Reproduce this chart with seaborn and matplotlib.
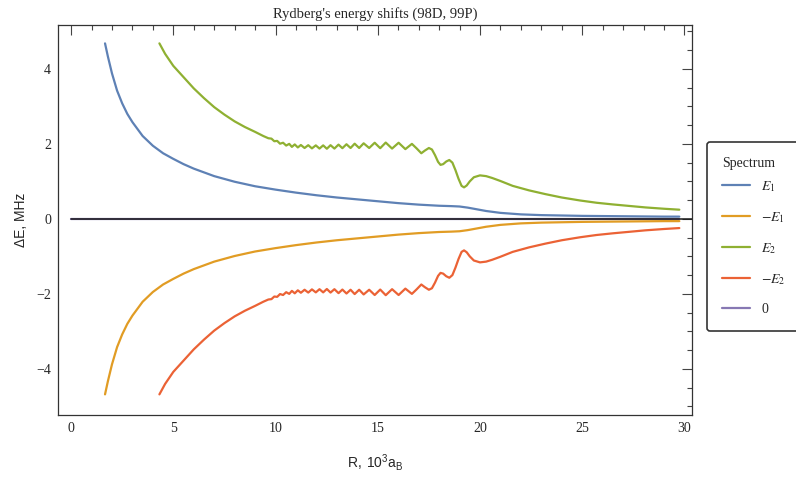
import numpy as np
import pandas as pd
import matplotlib
matplotlib.use("Agg")
import matplotlib.pyplot as plt
import seaborn as sns
from matplotlib.ticker import MultipleLocator
from matplotlib.lines import Line2D

# ---------------- data ----------------
E1_R = [1.66, 1.8, 2.0, 2.25, 2.5, 2.75, 3.0, 3.5, 4.0, 4.5, 5.0, 5.5, 6.0, 7.0, 8.0,
        9.0, 10.0, 11.0, 12.0, 13.0, 14.0, 15.0, 16.0, 17.0, 18.0, 18.6, 19.0, 19.4,
        19.8, 20.3, 21.0, 22.0, 23.0, 24.0, 25.0, 26.0, 27.0, 28.0, 29.0, 29.75]
E1 = [4.68, 4.33, 3.88, 3.42, 3.08, 2.80, 2.58, 2.21, 1.95, 1.75, 1.60, 1.46, 1.34,
      1.14, 0.99, 0.87, 0.78, 0.70, 0.63, 0.57, 0.52, 0.47, 0.42, 0.38, 0.35, 0.34,
      0.33, 0.30, 0.26, 0.21, 0.16, 0.12, 0.10, 0.09, 0.08, 0.075, 0.07, 0.065, 0.06, 0.06]

E2_R = [4.32, 4.6, 5.0, 5.5, 6.0, 6.5, 7.0, 7.5, 8.0, 8.5, 9.0, 9.4, 9.65,
        9.8, 9.94, 10.08, 10.22, 10.37, 10.52, 10.67, 10.8, 10.94, 11.09, 11.24,
        11.42, 11.6, 11.78, 11.97, 12.15, 12.33, 12.51, 12.69, 12.88, 13.08, 13.27,
        13.47, 13.67, 13.87, 14.09, 14.31, 14.58, 14.85, 15.12, 15.39, 15.7, 16.02,
        16.35, 16.67, 16.9, 17.13, 17.3, 17.5, 17.65, 17.8, 17.95, 18.07, 18.2, 18.35,
        18.5, 18.65, 18.8, 18.95, 19.1, 19.22, 19.35, 19.5, 19.7, 20.0, 20.3, 20.6,
        21.0, 21.6, 22.4, 23.2, 24.0, 24.9, 25.7, 26.5, 27.3, 28.1, 29.0, 29.75]
E2 = [4.68, 4.40, 4.08, 3.78, 3.48, 3.22, 2.98, 2.78, 2.60, 2.45, 2.32, 2.21, 2.15,
      2.14, 2.07, 2.08, 2.005, 2.03, 1.955, 2.0, 1.92, 1.985, 1.905, 1.97,
      1.89, 1.965, 1.88, 1.96, 1.875, 1.96, 1.87, 1.965, 1.875, 1.98, 1.885,
      1.99, 1.89, 2.005, 1.89, 2.015, 1.89, 2.03, 1.885, 2.035, 1.875, 2.03,
      1.86, 2.0, 1.88, 1.75, 1.82, 1.89, 1.85, 1.70, 1.52, 1.44, 1.46, 1.53,
      1.57, 1.50, 1.30, 1.07, 0.88, 0.84, 0.89, 1.0, 1.11, 1.16, 1.14, 1.09,
      1.01, 0.88, 0.76, 0.66, 0.57, 0.49, 0.43, 0.385, 0.345, 0.305, 0.27, 0.245]

ZERO_R = [0.0, 29.75]
ZERO = [0.0, 0.0]

series_names = ["E1", "-E1", "E2", "-E2", "0"]
legend_labels = [r"$E_1$", r"$-E_1$", r"$E_2$", r"$-E_2$", "0"]
colors = ["#5E81B5", "#E19C24", "#8FB032", "#EB6235", "#8778B3"]

# ---------------- build long table ----------------
frames = [
    pd.DataFrame({"R": ZERO_R, "dE": ZERO, "series": "0"}),
    pd.DataFrame({"R": E1_R, "dE": E1, "series": "E1"}),
    pd.DataFrame({"R": E1_R, "dE": [-v for v in E1], "series": "-E1"}),
    pd.DataFrame({"R": E2_R, "dE": E2, "series": "E2"}),
    pd.DataFrame({"R": E2_R, "dE": [-v for v in E2], "series": "-E2"}),
]
df = pd.concat(frames, ignore_index=True)

sns.set_theme(style="white")
plt.rcParams["font.family"] = ["Liberation Serif", "DejaVu Serif"]
plt.rcParams["mathtext.fontset"] = "stix"

fig = plt.figure(figsize=(7.96, 4.79), dpi=100)
ax = fig.add_axes([58 / 796, 1 - 415 / 479, (692 - 58) / 796, (415 - 25) / 479])

pal = dict(zip(series_names, colors))
sns.lineplot(data=df, x="R", y="dE", hue="series",
             hue_order=["0", "E1", "-E1", "E2", "-E2"], palette=pal,
             sort=False, estimator=None, linewidth=1.6, legend=False, ax=ax)

xmin, xmax = -0.64, 30.37
ax.set_xlim(xmin, xmax)
ax.set_ylim(-5.23, 5.17)
# axis line at y = 0 (Mathematica style), starting at R = 0
ax.axhline(0, xmin=(0 - xmin) / (xmax - xmin), xmax=1, color="#1a1a1a", lw=1.1, zorder=5)

ax.xaxis.set_major_locator(MultipleLocator(5))
ax.xaxis.set_minor_locator(MultipleLocator(1))
ax.yaxis.set_major_locator(MultipleLocator(2))
ax.yaxis.set_minor_locator(MultipleLocator(0.5))
ax.tick_params(which="both", direction="in", top=True, right=True,
               color="#444444", width=0.8, labelsize=10, pad=5)
ax.tick_params(which="major", length=7)
ax.tick_params(which="minor", length=3.5)
for s in ax.spines.values():
    s.set_color("#333333")
    s.set_linewidth(0.9)

ax.set_xlabel(r"$\mathregular{R,\ 10^{3}a_{B}}$", fontfamily="Liberation Sans",
              fontsize=10, labelpad=12)
ax.set_ylabel("ΔE, MHz", fontfamily="Liberation Sans", fontsize=10, labelpad=6)
ax.set_title("Rydberg's energy shifts (98D, 99P)", fontsize=10.5, pad=5)

handles = [Line2D([0], [0], color=c, lw=1.6) for c in colors]
leg = fig.legend(handles, legend_labels, title="Spectrum", loc="upper left",
                 bbox_to_anchor=(707 / 796, 0, 120 / 796, 1 - 142 / 479), mode="expand",
                 frameon=True, fancybox=True,
                 edgecolor="black", facecolor="white", fontsize=10, title_fontsize=10,
                 handlelength=2.0, labelspacing=1.16, borderpad=1.1, alignment="left",
                 borderaxespad=0)
leg._legend_box.sep = 6.5
leg.get_frame().set_linewidth(1.2)

fig.savefig("out.png", dpi=100)
